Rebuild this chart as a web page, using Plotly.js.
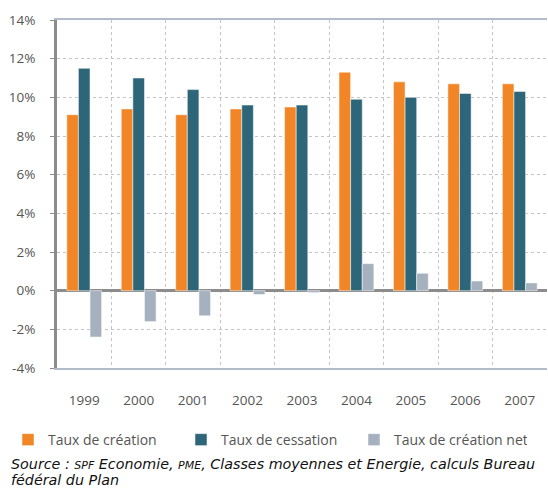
<!DOCTYPE html>
<html>
<head>
<meta charset="utf-8">
<script src="https://cdn.plot.ly/plotly-3.0.1.min.js"></script>
<style>html,body{margin:0;padding:0;background:#fff;}#chart{width:548px;height:488px;}</style>
</head>
<body>
<div id="chart"></div>
<script>
const years = ['1999','2000','2001','2002','2003','2004','2005','2006','2007'];
const tauxCreation = [9.1, 9.4, 9.1, 9.4, 9.5, 11.3, 10.8, 10.7, 10.7];
const tauxCessation = [11.5, 11.0, 10.4, 9.6, 9.6, 9.9, 10.0, 10.2, 10.3];
const tauxNet = [-2.4, -1.6, -1.3, -0.2, -0.1, 1.4, 0.9, 0.5, 0.4];
const seriesNames = ['Taux de création', 'Taux de cessation', 'Taux de création net'];
const yTickVals = [-4, -2, 0, 2, 4, 6, 8, 10, 12, 14];
const yTickText = ['-4%', '-2%', '0%', '2%', '4%', '6%', '8%', '10%', '12%', '14%'];
const colors = ['#f28526', '#2d6579', '#a6b1bf'];

const tickFont = {family: 'Open Sans, sans-serif', size: 13.5, color: '#555555'};
const mk = (y, i) => ({
  type: 'bar', x: years, y: y, name: seriesNames[i],
  marker: {color: colors[i], line: {color: 'rgba(255,255,255,0.5)', width: 1}},
  hoverinfo: 'x+y'
});

const data = [mk(tauxCreation, 0), mk(tauxCessation, 1), mk(tauxNet, 2)];

const srcFont = {family: 'DejaVu Sans, sans-serif', size: 14.3, color: '#111111'};
const layout = {
  width: 548, height: 488,
  margin: {l: 57, r: 1, t: 20, b: 120},
  paper_bgcolor: '#ffffff', plot_bgcolor: '#ffffff',
  barmode: 'group', bargap: 0.36, bargroupgap: 0,
  font: tickFont,
  showlegend: true,
  legend: {
    orientation: 'h', x: -0.1, xanchor: 'left', y: -0.207, yanchor: 'middle',
    font: {family: 'Open Sans, sans-serif', size: 14, color: '#555555'},
    entrywidth: 128, entrywidthmode: 'pixels', itemwidth: 30,
    bgcolor: 'rgba(0,0,0,0)'
  },
  xaxis: {
    type: 'category', tickson: 'boundaries', ticks: '',
    showgrid: true, gridcolor: '#c4c4c4', griddash: 'dot', gridwidth: 1,
    showline: true, linecolor: '#b3bccb', linewidth: 2, mirror: true,
    tickfont: tickFont, ticklabelstandoff: 19
  },
  yaxis: {
    range: [-4, 14], tickmode: 'array', tickvals: yTickVals, ticktext: yTickText,
    showgrid: true, gridcolor: '#c4c4c4', griddash: 'dot', gridwidth: 1,
    zeroline: true, zerolinecolor: '#8c8c8c', zerolinewidth: 3,
    showline: true, linecolor: '#8c8c8c', linewidth: 3,
    ticks: 'outside', ticklen: 4, tickcolor: '#8c8c8c',
    tickfont: tickFont, ticklabelstandoff: 12
  },
  annotations: [{
    xref: 'paper', yref: 'paper', x: -0.098, y: -(464 - 368) / 348, xanchor: 'left', yanchor: 'middle',
    align: 'left', showarrow: false,
    text: '<i>Source : <span style="font-size:11px">SPF</span> Economie, <span style="font-size:11px">PME</span>, Classes moyennes et Energie, calculs Bureau</i>',
    font: srcFont
  }, {
    xref: 'paper', yref: 'paper', x: -0.098, y: -(480 - 368) / 348, xanchor: 'left', yanchor: 'middle',
    align: 'left', showarrow: false,
    text: '<i>fédéral du Plan</i>',
    font: srcFont
  }]
};

Plotly.newPlot('chart', data, layout, {displayModeBar: false, staticPlot: true});
</script>
</body>
</html>
